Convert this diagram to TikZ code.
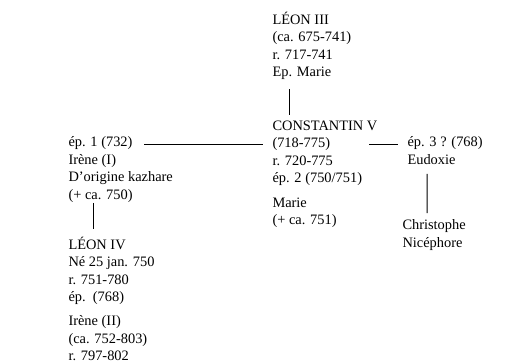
\documentclass[tikz,border=0pt]{standalone}
\usepackage{fontspec}
\setmainfont{Liberation Serif}
\newcommand{\famfont}{\fontsize{10.8pt}{13.1pt}\selectfont}

\tikzset{every picture/.style={line width=0.75pt}}
\tikzset{person/.style={anchor=north west, inner sep=0pt, align=left, font=\famfont,
    execute at begin node=\strut, execute at end node=\strut}}

\begin{document}
\begin{tikzpicture}[x=0.75pt,y=0.75pt,yscale=-1,xscale=1]
\useasboundingbox (0,0) rectangle (529,364);

% Text Node
\node [person] (leo3) at (272,11.3) {LÉON III\\(ca. 675-741)\\r. 717-741\\Ep. Marie};
% Text Node
\node [person] (const5) at (272,120.3) {CONSTANTIN V\\(718-775)\\r. 720-775\\ép. 2 (750/751)\\[5.2pt]Marie\\(+ ca. 751)};
% Text Node
\node [person] (ep1) at (68,136.3) {ép. 1 (732)\\Irène (I)\\D’origine kazhare\\(+ ca. 750)};
% Text Node
\node [person] (leo4) at (68,236.3) {LÉON IV\\Né 25 jan. 750\\r. 751-780\\ép.\ \ (768)\\[5.2pt]Irène (II)\\(ca. 752-803)\\r. 797-802};
% Text Node
\node [person] (ep3) at (407,136.3) {ép. 3 ? (768)\\Eudoxie};
% Text Node
\node [person] (christ) at (402,219.3) {Christophe\\Nicéphore};

%Straight Lines
\draw ([xshift=12.8pt,yshift=5.1pt]leo3.south west) -- ([xshift=12.8pt,yshift=-4pt]const5.north west);
%Straight Lines
\draw ([xshift=57pt,yshift=5.8pt]ep1.north west) -- ([xshift=-6.8pt,yshift=5.8pt]ep1.north west -| const5.west);
%Straight Lines
\draw ([xshift=-6.8pt,yshift=5.8pt]ep3.north west) -- ([xshift=72.8pt,yshift=5.8pt]ep3.north west -| const5.west);
%Straight Lines
\draw ([xshift=18.8pt,yshift=-1.6pt]ep1.south west) -- ([xshift=18.8pt,yshift=-5.5pt]leo4.north west);
%Straight Lines
\draw ([xshift=15pt,yshift=2.9pt]ep3.south west) -- ([xshift=18.8pt,yshift=-4.7pt]christ.north west);

\end{tikzpicture}
\end{document}
